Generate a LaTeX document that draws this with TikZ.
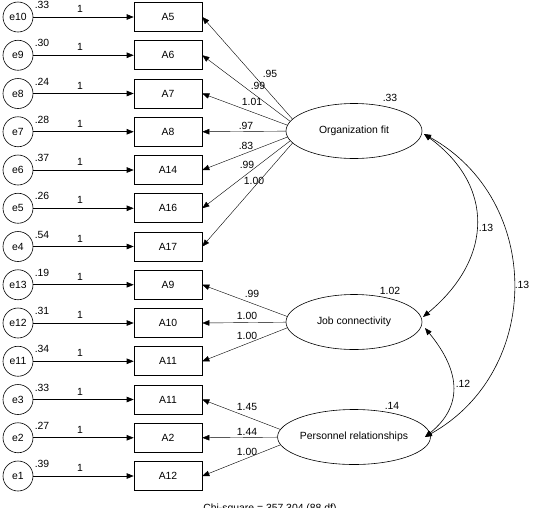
\documentclass[tikz,border=0pt]{standalone}
\usepackage{fontspec}
\setmainfont{Liberation Sans}
\usetikzlibrary{arrows.meta,shapes.geometric,backgrounds}

\begin{document}
\begin{tikzpicture}[x=1pt,y=-1pt,
  every node/.style={font=\fontsize{10.4}{12}\selectfont},
  line width=0.6pt,
  errnode/.style={circle,draw,minimum size=30pt,inner sep=0pt},
  obsnode/.style={rectangle,draw,minimum width=68pt,minimum height=29pt,inner sep=0pt},
  latnode/.style={ellipse,draw,fill=white,minimum width=136pt,minimum height=55pt,inner sep=0pt},
  tip/.style={-{Triangle[length=7pt,width=5.5pt]}},
  dtip/.style={{Triangle[length=7pt,width=5.5pt]}-{Triangle[length=7pt,width=5.5pt]}},
  lbl/.style={inner sep=0pt}
]
\useasboundingbox (0,0) rectangle (537,507);

% error terms and observed variables
\foreach \i/\en/\an/\vr in {0/e10/A5/.33, 1/e9/A6/.30, 2/e8/A7/.24, 3/e7/A8/.28,
  4/e6/A14/.37, 5/e5/A16/.26, 6/e4/A17/.54, 7/e13/A9/.19, 8/e12/A10/.31,
  9/e11/A11/.34, 10/e3/A11/.33, 11/e2/A2/.27, 12/e1/A12/.39} {
  \pgfmathsetmacro\yy{17+38.25*\i}
  \node[errnode] (\en) at (18,\yy) {\en};
  \node[obsnode] (b\i) at (168,\yy) {\an};
  \draw[tip] (\en) -- (b\i);
  \node[lbl] (w\i) at (80,\yy-8) {1};
  \node[lbl] (v\i) at (42,\yy-12) {\vr};
}

% latent variables
\node[latnode] (of) at (354,131) {Organization fit};
\node[latnode] (jc) at (354,322) {Job connectivity};
\node[latnode] (pr) at (354,437) {Personnel relationships};
\coordinate (fof) at (303,131);
\coordinate (fjc) at (302,322);
\coordinate (fpr) at (300,437);

\node[lbl] (vof) at (390,98) {.33};
\node[lbl] (vjc) at (390,291) {1.02};
\node[lbl] (vpr) at (392,406) {.14};

% loadings
\begin{scope}[on background layer]
  \foreach \i in {0,...,6} \draw[tip] (fof) -- (b\i.east);
  \foreach \i in {7,8,9} \draw[tip] (fjc) -- (b\i.east);
  \foreach \i in {10,11,12} \draw[tip] (fpr) -- (b\i.east);
\end{scope}

\foreach \n/\x/\y/\t in {l0/270/74/.95, l1/258/86/.99, l2/252/102/1.01,
  l3/246/126/.97, l4/246/146/.83, l5/247/165/.99, l6/254/181/1.00,
  l7/252/294/.99, l8/247/316/1.00, l9/247/336/1.00,
  l10/247/407/1.45, l11/247/432/1.44, l12/247/452/1.00} {
  \node[lbl] (\n) at (\x,\y) {\t};
}

% covariances
\coordinate (ofr) at (424,134);
\coordinate (jct) at (423,317);
\coordinate (jcb) at (425,328);
\coordinate (prr) at (425,437);
\draw[dtip] (ofr) .. controls (494,185) and (494,258) .. (jct);
\draw[dtip] (ofr) .. controls (543,200) and (543,371) .. (prr);
\draw[dtip] (jcb) .. controls (462,373) and (462,407) .. (prr);
\node[lbl] (c1) at (486,228) {.13};
\node[lbl] (c2) at (522,285) {.13};
\node[lbl] (c3) at (463,384) {.12};

% caption (cut off at the bottom edge)
\node[lbl,anchor=base west] (chi) at (203,511.5) {Chi-square = 357.304 (88 df)};
\end{tikzpicture}
\end{document}
